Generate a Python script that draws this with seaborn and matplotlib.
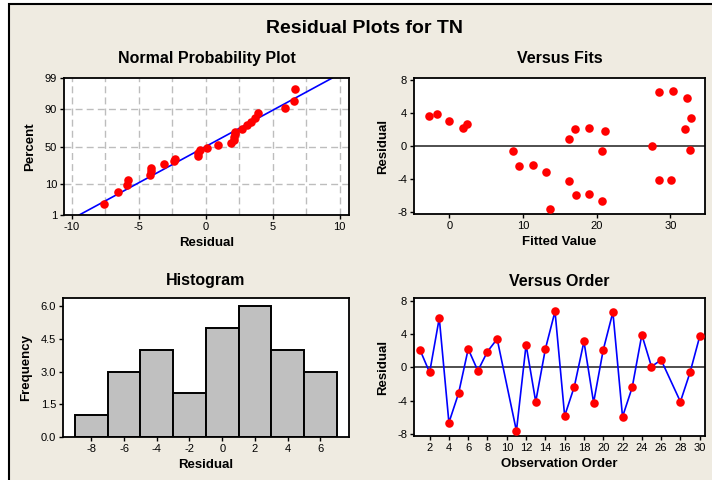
"""
Residual plots for TN (normal probability, versus fits, histogram, versus order).
"""
from statistics import NormalDist

import numpy as np
import pandas as pd
import matplotlib
matplotlib.use('Agg')
import matplotlib.pyplot as plt
from matplotlib.patches import Rectangle
from matplotlib.ticker import FormatStrFormatter
import seaborn as sns

# observation numbers (10 and 27 are missing)
order = [1, 2, 3, 4, 5, 6, 7, 8, 9, 11, 12, 13, 14, 15, 16, 17, 18, 19,
         20, 21, 22, 23, 24, 25, 26, 28, 29, 30]
residual = [2.1, -0.6, 5.9, -6.6, -3.1, 2.2, -0.4, 1.9, 3.4, -7.6, 2.7, -4.1,
            2.2, 6.7, -5.8, -2.3, 3.1, -4.2, 2.1, 6.6, -5.9, -2.4, 3.9, 0.1,
            0.9, -4.1, -0.6, 3.7]
fitted = [17.0, 8.7, 32.2, 20.7, 13.1, 18.9, 32.6, 21.1, 32.8, 13.7, 2.4, 28.5,
          1.8, 30.3, 18.9, 11.3, 0.0, 16.3, 32.0, 28.5, 17.2, 9.4, -1.7, 27.5,
          16.2, 30.1, 20.7, -2.7]

pct_ticks = [1, 10, 50, 90, 99]

BG = '#EFEBE1'
W, H = 712, 480

plt.rcParams['font.family'] = ['Liberation Sans', 'DejaVu Sans']
plt.rcParams['axes.unicode_minus'] = False
plt.rcParams['axes.linewidth'] = 1.3
plt.rcParams['xtick.major.size'] = 3
plt.rcParams['ytick.major.size'] = 3
plt.rcParams['xtick.labelsize'] = 8
plt.rcParams['ytick.labelsize'] = 8


def box(left, top, right, bottom):
    # axes rectangle from pixel edges
    return [left / W, 1 - bottom / H, (right - left) / W, (bottom - top) / H]


def style_axes(ax, title, xlabel, ylabel, pad):
    ax.set_facecolor('white')
    ax.set_title(title, fontsize=11.5, fontweight='bold', pad=pad)
    ax.set_xlabel(xlabel, fontsize=9.5, fontweight='bold', labelpad=3.5)
    ax.set_ylabel(ylabel, fontsize=9.5, fontweight='bold', labelpad=6)
    ax.tick_params(direction='out', width=1, pad=2, colors='black')
    for s in ax.spines.values():
        s.set_color('black')


df = pd.DataFrame({'order': order, 'residual': residual, 'fitted': fitted})

fig = plt.figure(figsize=(W / 100, H / 100), dpi=100)
fig.patch.set_facecolor('white')
fig.patches.append(Rectangle((9 / W, -0.1), 1.0, 1.1 - 4 / H, transform=fig.transFigure,
                             facecolor=BG, edgecolor='black', linewidth=1.5, zorder=-10))
fig.text(365 / W, 1 - 33 / H, 'Residual Plots for TN', ha='center', va='baseline',
         fontsize=14, fontweight='bold')

# Normal probability plot
ax1 = fig.add_axes(box(64, 78, 349, 215))
nd = NormalDist()
n = len(residual)
srt = np.sort(residual)
zpos = [nd.inv_cdf((i + 1 - 0.3) / (n + 0.4)) for i in range(n)]
zlo, zhi = nd.inv_cdf(0.01), nd.inv_cdf(0.99)
mu, sd = np.mean(residual), np.std(residual, ddof=1)
sns.lineplot(x=[mu + sd * zlo, mu + sd * zhi], y=[zlo, zhi], ax=ax1, color='blue', lw=1.2)
sns.scatterplot(x=srt, y=zpos, ax=ax1, color='red', s=38, linewidth=0, zorder=3)
ax1.set_xlim(-10.6, 10.7)
ax1.set_ylim(zlo, zhi)
ax1.set_xticks([-10, -5, 0, 5, 10])
ax1.set_yticks([nd.inv_cdf(p / 100) for p in pct_ticks])
ax1.set_yticklabels([str(p) for p in pct_ticks])
for xv in np.arange(-10, 10.1, 2.5):
    ax1.axvline(xv, color='#BDBDBD', ls=(0, (5, 3)), lw=1, zorder=0)
for p in [10, 50, 90]:
    ax1.axhline(nd.inv_cdf(p / 100), color='#BDBDBD', ls=(0, (5, 3)), lw=1, zorder=0)
style_axes(ax1, 'Normal Probability Plot', 'Residual', 'Percent', 11)

# Versus fits
ax2 = fig.add_axes(box(414, 78, 705, 214))
ax2.axhline(0, color='#404040', lw=1.3, zorder=1)
sns.scatterplot(data=df, x='fitted', y='residual', ax=ax2, color='red', s=38,
                linewidth=0, zorder=3)
ax2.set_xlim(-4.8, 34.7)
ax2.set_ylim(-8.2, 8.3)
ax2.set_xticks([0, 10, 20, 30])
ax2.set_yticks([-8, -4, 0, 4, 8])
style_axes(ax2, 'Versus Fits', 'Fitted Value', 'Residual', 11)

# Histogram
ax3 = fig.add_axes(box(63, 298, 349, 437))
sns.histplot(x=residual, bins=np.arange(-9, 8, 2), ax=ax3, color='#C0C0C0',
             edgecolor='black', linewidth=1.4, alpha=1)
ax3.set_xlim(-9.73, 7.75)
ax3.set_ylim(0, 6.38)
ax3.set_xticks([-8, -6, -4, -2, 0, 2, 4, 6])
ax3.set_yticks([0, 1.5, 3.0, 4.5, 6.0])
ax3.yaxis.set_major_formatter(FormatStrFormatter('%.1f'))
style_axes(ax3, 'Histogram', 'Residual', 'Frequency', 9)

# Versus order
ax4 = fig.add_axes(box(414, 298, 705, 436))
ax4.axhline(0, color='#404040', lw=1.3, zorder=1)
sns.lineplot(data=df, x='order', y='residual', ax=ax4, color='blue', lw=1.2, zorder=2)
sns.scatterplot(data=df, x='order', y='residual', ax=ax4, color='red', s=38,
                linewidth=0, zorder=3)
ax4.set_xlim(0.38, 30.55)
ax4.set_ylim(-8.2, 8.3)
ax4.set_xticks(list(range(2, 31, 2)))
ax4.set_yticks([-8, -4, 0, 4, 8])
style_axes(ax4, 'Versus Order', 'Observation Order', 'Residual', 9)

fig.savefig('out.png', dpi=100, facecolor=fig.get_facecolor())
